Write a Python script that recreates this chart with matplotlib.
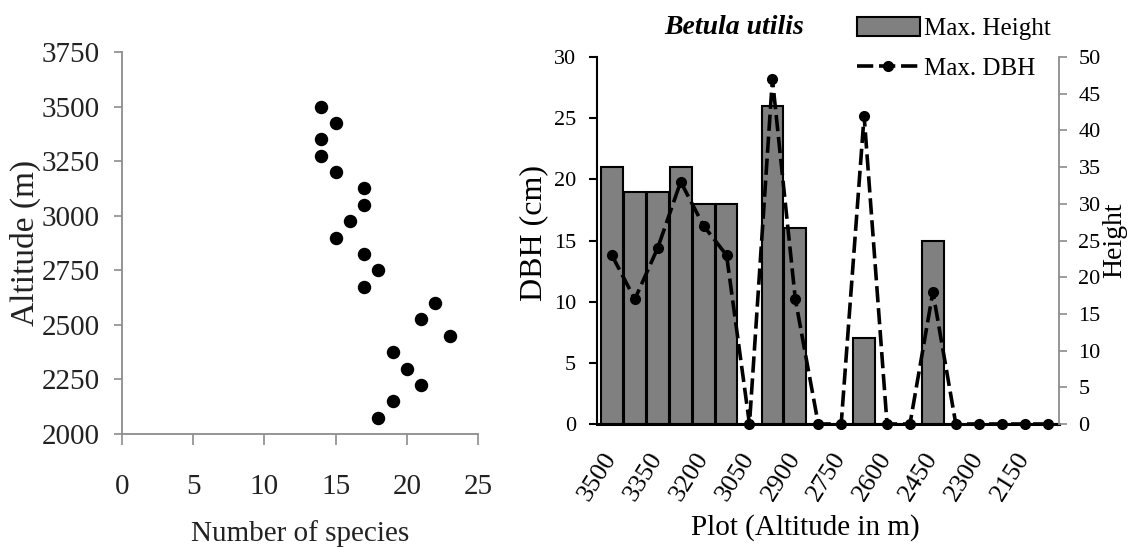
import matplotlib
matplotlib.use("Agg")
import matplotlib.pyplot as plt
from matplotlib.transforms import ScaledTranslation

# ---------------- data ----------------
altitudes = [3500, 3425, 3350, 3275, 3200, 3125, 3050, 2975, 2900, 2825,
             2750, 2675, 2600, 2525, 2450, 2375, 2300, 2225, 2150, 2075]
species_count = [14, 15, 14, 14, 15, 17, 17, 16, 15, 17,
                 18, 17, 22, 21, 23, 19, 20, 21, 19, 18]
max_height = [21, 19, 19, 21, 18, 18, 0, 26, 16, 0,
              0, 7, 0, 0, 15, 0, 0, 0, 0, 0]
max_dbh = [23, 17, 24, 33, 27, 23, 0, 47, 17, 0,
           0, 42, 0, 0, 18, 0, 0, 0, 0, 0]
left_xticks = [0, 5, 10, 15, 20, 25]
left_yticks = [2000, 2250, 2500, 2750, 3000, 3250, 3500, 3750]
bar_yticks = [0, 5, 10, 15, 20, 25, 30]
line_yticks = [0, 5, 10, 15, 20, 25, 30, 35, 40, 45, 50]
plot_label_idx = list(range(0, 20, 2))
plot_labels = [str(altitudes[i]) for i in plot_label_idx]

plt.rcParams['font.family'] = ['Liberation Serif', 'DejaVu Serif']

W, H = 1136, 550
fig = plt.figure(figsize=(W / 100, H / 100), dpi=100)

def px_rect(x0, y0, x1, y1):
    return [x0 / W, 1 - y1 / H, (x1 - x0) / W, (y1 - y0) / H]

# ---------------- left: scatter ----------------
gray = '#8c8c8c'
txt = '#222222'
ax1 = fig.add_axes(px_rect(122, 52, 478, 434))
ax1.scatter(species_count, altitudes, s=75, color='black', zorder=3)
ax1.set_xlim(0, 25)
ax1.set_ylim(2000, 3750)
ax1.set_xticks(left_xticks)
ax1.set_yticks(left_yticks)
for s in ['top', 'right']:
    ax1.spines[s].set_visible(False)
for s in ['left', 'bottom']:
    ax1.spines[s].set_color(gray)
    ax1.spines[s].set_linewidth(1.3)
ax1.tick_params(axis='y', direction='out', length=6, width=1.2, color=gray,
                labelsize=21, pad=10, labelcolor=txt)
ax1.tick_params(axis='x', direction='out', length=8, width=1.2, color=gray,
                labelsize=21, pad=21, labelcolor=txt)
ax1.set_xlabel('Number of species', fontsize=21, color=txt)
ax1.xaxis.set_label_coords(0.5, -0.225)
ax1.set_ylabel('Altitude (m)', fontsize=24, color=txt)
ax1.yaxis.set_label_coords(-0.228, 0.5)

# ---------------- right: bars + line ----------------
ax2 = fig.add_axes(px_rect(597, 57, 1059, 424))
x = list(range(len(altitudes)))
bars = ax2.bar(x, max_height, width=0.95, color='#808080', edgecolor='black',
               linewidth=1.5, label='Max. Height', zorder=2)
ax2.set_xlim(-0.65, 19.5)
ax2.set_ylim(0, 30)
ax2.set_yticks(bar_yticks)
ax2.set_xticks(plot_label_idx)
ax2.set_xticklabels(plot_labels, rotation=58, ha='right', va='center',
                    rotation_mode='anchor')
shift = ScaledTranslation(10 / 100, 0, fig.dpi_scale_trans)
for lab in ax2.get_xticklabels():
    lab.set_transform(lab.get_transform() + shift)
ax2.tick_params(axis='x', length=0, labelsize=19, pad=22)
ax2.tick_params(axis='y', direction='out', length=6, width=1.5, color='black',
                labelsize=16, pad=9)
for s in ['top', 'right']:
    ax2.spines[s].set_visible(False)
ax2.spines['left'].set_linewidth(1.5)
ax2.spines['bottom'].set_linewidth(2.2)
ax2.set_ylabel('DBH (cm)', fontsize=23)
ax2.yaxis.set_label_coords(-0.105, 0.52)
ax2.set_xlabel('Plot (Altitude in m)', fontsize=21)
ax2.xaxis.set_label_coords(0.45, -0.245)

ax3 = ax2.twinx()
line, = ax3.plot(x, max_dbh, color='black', linestyle='--', dashes=(4.5, 1.6),
                 linewidth=2.6, marker='o', markersize=7, label='Max. DBH',
                 clip_on=False, zorder=4)
ax3.set_ylim(0, 50)
ax3.set_yticks(line_yticks)
for s in ['top', 'left', 'bottom']:
    ax3.spines[s].set_visible(False)
ax3.spines['right'].set_color(gray)
ax3.spines['right'].set_linewidth(1.3)
ax3.tick_params(axis='y', direction='out', length=6, width=1.2, color=gray,
                labelsize=16, pad=8)
ax3.set_ylabel('Height', fontsize=20)
ax3.yaxis.set_label_coords(1.093, 0.5)

fig.text(734 / W, 1 - 28 / H, 'Betula utilis', fontsize=20, fontstyle='italic',
         fontweight='bold', ha='center', va='center')

leg = fig.legend(handles=[bars, line], labels=['Max. Height', 'Max. DBH'],
                 loc='upper left', bbox_to_anchor=(857 / W, 1 - 17 / H),
                 frameon=False, fontsize=18, handlelength=2.5,
                 handleheight=0.8, handletextpad=0.2, labelspacing=0.65,
                 borderpad=0, borderaxespad=0, numpoints=1)

fig.savefig('out.png', dpi=100)
